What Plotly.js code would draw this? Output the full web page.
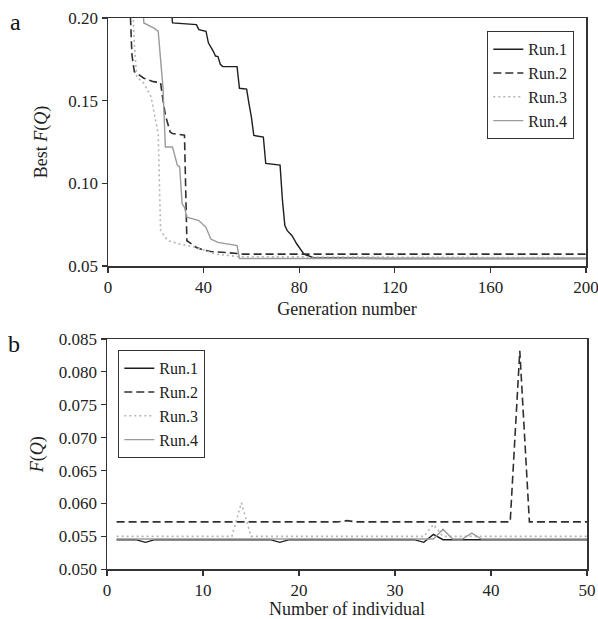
<!DOCTYPE html>
<html>
<head>
<meta charset="utf-8">
<script src="https://cdn.plot.ly/plotly-3.0.1.min.js"></script>
<style>html,body{margin:0;padding:0;background:#fff;}#chart{width:598px;height:619px;}</style>
</head>
<body>
<div id="chart"></div>
<script>
// ---------- Panel a: best F(Q) vs generation ----------
const runNames = ["Run.1", "Run.2", "Run.3", "Run.4"];

const genRun1 = [26, 27, 37, 38, 41, 42, 44, 45, 46, 47, 48, 54, 55, 58, 59, 60, 61, 65, 66, 72, 73, 74, 75, 77, 79, 82, 86, 94, 112, 113, 116, 117, 200];
const valRun1 = [0.215, 0.197, 0.196, 0.193, 0.192, 0.185, 0.180, 0.177, 0.1767, 0.172, 0.1706, 0.1706, 0.1575, 0.157, 0.148, 0.140, 0.129, 0.128, 0.112, 0.111, 0.0896, 0.0744, 0.0714, 0.0683, 0.0633, 0.0572, 0.0550, 0.0548, 0.0545, 0.0542, 0.0542, 0.0545, 0.0545];

const genRun2 = [9, 10, 11, 15, 19, 22, 23, 24, 26, 27, 32, 33, 35, 37, 40, 43, 54, 55, 200];
const valRun2 = [0.215, 0.178, 0.1676, 0.1636, 0.1615, 0.1609, 0.1504, 0.1413, 0.1311, 0.1301, 0.1291, 0.0653, 0.0633, 0.0612, 0.0597, 0.0588, 0.0576, 0.0572, 0.0572];

const genRun3 = [10, 11, 12, 15, 18, 20, 21, 22, 25, 30, 37, 45, 55, 200];
const valRun3 = [0.220, 0.185, 0.1645, 0.1605, 0.1524, 0.1382, 0.130, 0.0714, 0.0653, 0.0633, 0.0612, 0.0572, 0.0556, 0.0550];

const genRun4 = [14, 15, 19, 21, 22, 23, 24, 27, 29, 30, 31, 32, 33, 38, 41, 43, 46, 54, 55, 200];
const valRun4 = [0.220, 0.197, 0.194, 0.192, 0.175, 0.158, 0.122, 0.122, 0.111, 0.110, 0.0876, 0.0855, 0.0795, 0.0775, 0.0734, 0.0663, 0.0643, 0.0623, 0.0545, 0.0545];

// ---------- Panel b: F(Q) vs number of individual ----------
const individuals = [];
for (let i = 1; i <= 50; i++) individuals.push(i);

const indRun1 = [0.0545,0.0545,0.0545,0.0541,0.0545,0.0545,0.0545,0.0545,0.0545,0.0545,
                 0.0545,0.0545,0.0545,0.0545,0.0545,0.0545,0.0545,0.0541,0.0545,0.0545,
                 0.0545,0.0545,0.0545,0.0545,0.0545,0.0545,0.0545,0.0545,0.0545,0.0545,
                 0.0545,0.0545,0.0541,0.0553,0.0545,0.0545,0.0545,0.0545,0.0545,0.0545,
                 0.0545,0.0545,0.0545,0.0545,0.0545,0.0545,0.0545,0.0545,0.0545,0.0545];
const indRun2 = [0.0572,0.0572,0.0572,0.0572,0.0572,0.0572,0.0572,0.0572,0.0572,0.0572,
                 0.0572,0.0572,0.0572,0.0572,0.0572,0.0572,0.0572,0.0572,0.0572,0.0572,
                 0.0572,0.0572,0.0572,0.0572,0.0574,0.0572,0.0572,0.0572,0.0572,0.0572,
                 0.0572,0.0572,0.0572,0.0572,0.0572,0.0572,0.0572,0.0572,0.0572,0.0572,
                 0.0572,0.0572,0.0832,0.0572,0.0572,0.0572,0.0572,0.0572,0.0572,0.0572];
const indRun3 = [0.0550,0.0550,0.0550,0.0550,0.0550,0.0550,0.0550,0.0550,0.0550,0.0550,
                 0.0550,0.0550,0.0550,0.0601,0.0550,0.0550,0.0550,0.0550,0.0550,0.0550,
                 0.0550,0.0550,0.0550,0.0550,0.0550,0.0550,0.0550,0.0550,0.0550,0.0550,
                 0.0550,0.0550,0.0550,0.0568,0.0550,0.0550,0.0550,0.0550,0.0550,0.0550,
                 0.0550,0.0550,0.0550,0.0550,0.0550,0.0550,0.0550,0.0550,0.0550,0.0550];
const indRun4 = [0.0546,0.0546,0.0546,0.0546,0.0546,0.0546,0.0546,0.0546,0.0546,0.0546,
                 0.0546,0.0546,0.0546,0.0546,0.0546,0.0546,0.0546,0.0546,0.0546,0.0546,
                 0.0546,0.0546,0.0546,0.0546,0.0546,0.0546,0.0546,0.0546,0.0546,0.0546,
                 0.0546,0.0546,0.0546,0.0546,0.0561,0.0546,0.0546,0.0555,0.0546,0.0546,
                 0.0546,0.0546,0.0546,0.0546,0.0546,0.0546,0.0546,0.0546,0.0546,0.0546];

const xTicksA = [0, 40, 80, 120, 160, 200];
const yTicksA = [0.05, 0.10, 0.15, 0.20];
const xTicksB = [0, 10, 20, 30, 40, 50];
const yTicksB = [0.050, 0.055, 0.060, 0.065, 0.070, 0.075, 0.080, 0.085];

const styles = [
  {color: "#1e1e1e", width: 1.4, dash: "solid"},
  {color: "#303030", width: 1.6, dash: "8px,4px"},
  {color: "#b4b4b4", width: 1.6, dash: "2px,3px"},
  {color: "#9a9a9a", width: 1.4, dash: "solid"}
];

const panelA = [[genRun1, valRun1], [genRun2, valRun2], [genRun3, valRun3], [genRun4, valRun4]];
const panelB = [indRun1, indRun2, indRun3, indRun4];

const traces = [];
panelA.forEach((d, i) => {
  traces.push({x: d[0], y: d[1], type: "scatter", mode: "lines", name: runNames[i],
    xaxis: "x", yaxis: "y", legend: "legend", line: Object.assign({}, styles[i])});
});
panelB.forEach((d, i) => {
  traces.push({x: individuals, y: d, type: "scatter", mode: "lines", name: runNames[i],
    xaxis: "x2", yaxis: "y2", legend: "legend2", line: Object.assign({}, styles[i])});
});

const serif = "Liberation Serif, Times New Roman, serif";
const font = {family: serif, size: 17, color: "#222"};
const axisCommon = {showline: true, mirror: true, linecolor: "#333", linewidth: 1.5,
  ticks: "outside", ticklen: 5, tickcolor: "#333", tickwidth: 1.2, showgrid: false,
  zeroline: false, automargin: false, ticklabeloverflow: "allow",
  tickfont: {family: serif, size: 17, color: "#222"}};

const layout = {
  width: 598, height: 619,
  margin: {l: 0, r: 0, t: 0, b: 0},
  paper_bgcolor: "#fff", plot_bgcolor: "#fff",
  font: font,
  xaxis: Object.assign({}, axisCommon, {domain: [108/598, 586/598], range: [0, 200],
    tickvals: xTicksA, anchor: "y",
    title: {text: "Generation number", font: {family: serif, size: 18}, standoff: 6}}),
  yaxis: Object.assign({}, axisCommon, {domain: [1 - 266/619, 1 - 18/619], range: [0.05, 0.20],
    tickvals: yTicksA, tickformat: ".2f", anchor: "x",
    title: {text: "Best <i>F</i>(<i>Q</i>)", font: {family: serif, size: 18}, standoff: 16}}),
  xaxis2: Object.assign({}, axisCommon, {domain: [107/598, 587/598], range: [0, 50],
    tickvals: xTicksB, anchor: "y2",
    title: {text: "Number of individual", font: {family: serif, size: 18}, standoff: 4}}),
  yaxis2: Object.assign({}, axisCommon, {domain: [1 - 569.3/619, 1 - 339/619], range: [0.050, 0.085],
    tickvals: yTicksB, tickformat: ".3f", anchor: "x2",
    title: {text: "<i>F</i>(<i>Q</i>)", font: {family: serif, size: 18}, standoff: 10}}),
  legend: {x: 574/598, y: 1 - 31/619, xanchor: "right", yanchor: "top",
    bordercolor: "#333", borderwidth: 1.3, bgcolor: "#fff",
    font: {family: serif, size: 16, color: "#222"}, tracegroupgap: 0},
  legend2: {x: 118/598, y: 1 - 350/619, xanchor: "left", yanchor: "top",
    bordercolor: "#333", borderwidth: 1.3, bgcolor: "#fff",
    font: {family: serif, size: 16, color: "#222"}, tracegroupgap: 0},
  annotations: [
    {text: "a", x: 8/598, y: 1 - 22/619, xref: "paper", yref: "paper", xanchor: "left", yanchor: "middle",
      showarrow: false, font: {family: serif, size: 24, color: "#111"}},
    {text: "b", x: 6/598, y: 1 - 344/619, xref: "paper", yref: "paper", xanchor: "left", yanchor: "middle",
      showarrow: false, font: {family: serif, size: 24, color: "#111"}}
  ],
  showlegend: true
};

Plotly.newPlot("chart", traces, layout, {staticPlot: true, displayModeBar: false});
</script>
</body>
</html>
